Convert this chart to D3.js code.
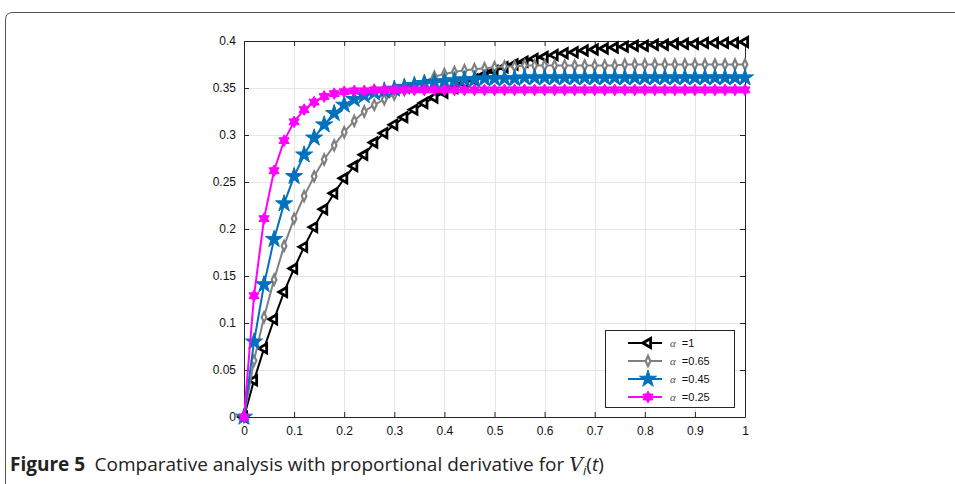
<!DOCTYPE html>
<html>
<head>
<meta charset="utf-8">
<script src="https://cdn.jsdelivr.net/npm/d3@7"></script>
<style>
  body { margin: 0; background: #fff; }
  svg { display: block; }
</style>
</head>
<body>
<svg id="chart" width="955" height="484"></svg>
<script>
// time samples 0, 0.02, ..., 1
const tValues = d3.range(51).map((i) => +(i * 0.02).toFixed(2));

const alpha1 = [0, 0.039, 0.073, 0.104, 0.133, 0.158, 0.181, 0.202, 0.221, 0.238,
  0.254, 0.267, 0.279, 0.292, 0.302, 0.311, 0.319, 0.327, 0.334, 0.340,
  0.345, 0.350, 0.355, 0.359, 0.364, 0.368, 0.372, 0.375, 0.378, 0.381,
  0.383, 0.385, 0.387, 0.388, 0.390, 0.391, 0.392, 0.393, 0.394, 0.395,
  0.395, 0.396, 0.396, 0.397, 0.397, 0.397, 0.398, 0.398, 0.398, 0.398, 0.399];

const alpha065 = [0, 0.060, 0.106, 0.146, 0.182, 0.211, 0.235, 0.256, 0.274, 0.289,
  0.303, 0.315, 0.325, 0.332, 0.338, 0.343, 0.348, 0.353, 0.357, 0.362,
  0.365, 0.367, 0.369, 0.370, 0.371, 0.372, 0.373, 0.373, 0.374, 0.374,
  0.374, 0.374, 0.374, 0.374, 0.374, 0.374, 0.374, 0.374, 0.375, 0.375,
  0.375, 0.375, 0.375, 0.375, 0.375, 0.375, 0.375, 0.375, 0.375, 0.375, 0.375];

const alpha045 = [0, 0.080, 0.141, 0.189, 0.227, 0.256, 0.279, 0.297, 0.311, 0.323,
  0.332, 0.338, 0.342, 0.345, 0.347, 0.349, 0.351, 0.353, 0.355, 0.356,
  0.357, 0.358, 0.359, 0.359, 0.360, 0.360, 0.360, 0.360, 0.361, 0.361,
  0.361, 0.361, 0.361, 0.361, 0.361, 0.361, 0.361, 0.361, 0.361, 0.361,
  0.361, 0.361, 0.361, 0.361, 0.361, 0.361, 0.361, 0.361, 0.361, 0.361, 0.361];

const alpha025 = [0, 0.129, 0.211, 0.262, 0.294, 0.314, 0.327, 0.335, 0.341, 0.344,
  0.346, 0.347, 0.347, 0.348, 0.348, 0.348, 0.348, 0.348, 0.348, 0.348,
  0.348, 0.348, 0.348, 0.348, 0.348, 0.348, 0.348, 0.348, 0.348, 0.348,
  0.348, 0.348, 0.348, 0.348, 0.348, 0.348, 0.348, 0.348, 0.348, 0.348,
  0.348, 0.348, 0.348, 0.348, 0.348, 0.348, 0.348, 0.348, 0.348, 0.348, 0.348];

const seriesLabels = ["=1", "=0.65", "=0.45", "=0.25"];
const xTicks = d3.range(11).map((i) => i / 10);
const yTicks = d3.range(9).map((i) => i * 0.05);

const svg = d3.select("#chart");

// card frame with rounded top-left corner
svg.append("path")
  .attr("d", "M5.5,484 L5.5,20 Q5.5,12.5 13,12.5 L955,12.5")
  .attr("fill", "none")
  .attr("stroke", "#555")
  .attr("stroke-width", 1);

const x = d3.scaleLinear().domain([0, 1]).range([244, 745]);
const y = d3.scaleLinear().domain([0, 0.4]).range([417, 41]);

// grid
const grid = svg.append("g").attr("stroke", "#e6e6e6").attr("stroke-width", 1);
grid.selectAll(".gx").data(xTicks.slice(1, -1)).join("line")
  .attr("x1", (d) => Math.round(x(d)) + 0.5).attr("x2", (d) => Math.round(x(d)) + 0.5)
  .attr("y1", y(0.4)).attr("y2", y(0));
grid.selectAll(".gy").data(yTicks.slice(1, -1)).join("line")
  .attr("y1", (d) => Math.round(y(d)) + 0.5).attr("y2", (d) => Math.round(y(d)) + 0.5)
  .attr("x1", x(0)).attr("x2", x(1));

// axes (matlab style, ticks inside, box on)
const fmt = (d) => (d === 0 ? "0" : d3.format("~g")(+d.toFixed(2)));
const axisColor = "#262626";

function styleAxis(g) {
  g.selectAll("path").attr("stroke", axisColor);
  g.selectAll("line").attr("stroke", axisColor);
  g.selectAll("text")
    .attr("fill", "#111")
    .style("font-family", "'Liberation Sans', Arial, sans-serif")
    .style("font-size", "12px");
}

svg.append("g")
  .attr("transform", `translate(0,${y(0)})`)
  .call(d3.axisBottom(x).tickValues(xTicks).tickFormat(fmt).tickSizeInner(-5).tickSizeOuter(0).tickPadding(9))
  .call(styleAxis);
svg.append("g")
  .attr("transform", `translate(0,${y(0.4)})`)
  .call(d3.axisTop(x).tickValues(xTicks).tickFormat("").tickSizeInner(-5).tickSizeOuter(0))
  .call(styleAxis);
svg.append("g")
  .attr("transform", `translate(${x(0)},0)`)
  .call(d3.axisLeft(y).tickValues(yTicks).tickFormat(fmt).tickSizeInner(-5).tickSizeOuter(0).tickPadding(8))
  .call(styleAxis);
svg.append("g")
  .attr("transform", `translate(${x(1)},0)`)
  .call(d3.axisRight(y).tickValues(yTicks).tickFormat("").tickSizeInner(-5).tickSizeOuter(0))
  .call(styleAxis);

// six-pointed star for the 0.25 curve
const hexagram = {
  draw(context, size) {
    const r = Math.sqrt(size / 2.2);
    const ri = r * 0.58;
    for (let i = 0; i < 12; i++) {
      const a = (Math.PI / 6) * i - Math.PI / 2;
      const rr = i % 2 === 0 ? r : ri;
      const px = rr * Math.cos(a);
      const py = rr * Math.sin(a);
      if (i === 0) context.moveTo(px, py); else context.lineTo(px, py);
    }
    context.closePath();
  },
};

const series = [
  { label: seriesLabels[0], values: alpha1, color: "#000000", symbol: d3.symbolTriangle, size: 36, rotate: -90, fill: "#fff", sw: 2.8 },
  { label: seriesLabels[1], values: alpha065, color: "#808080", symbol: d3.symbolDiamond, size: 30, rotate: 0, fill: "#fff", sw: 2.6, scaleX: 0.8 },
  { label: seriesLabels[2], values: alpha045, color: "#0072bd", symbol: d3.symbolStar, size: 90, rotate: 0, fill: "#0072bd", sw: 1 },
  { label: seriesLabels[3], values: alpha025, color: "#ff00ff", symbol: hexagram, size: 75, rotate: 0, fill: "#ff00ff", sw: 1 },
];

const line = d3.line().x((d) => x(d[0])).y((d) => y(d[1]));
const plot = svg.append("g");

series.forEach((s) => {
  const pts = tValues.map((t, i) => [t, s.values[i]]);
  plot.append("path")
    .datum(pts)
    .attr("d", line)
    .attr("fill", "none")
    .attr("stroke", s.color)
    .attr("stroke-width", 2);
  plot.append("g").selectAll("path").data(pts).join("path")
    .attr("d", d3.symbol(s.symbol, s.size))
    .attr("transform", (d) => `translate(${x(d[0])},${y(d[1])}) rotate(${s.rotate}) scale(${s.scaleX || 1},1)`)
    .attr("fill", s.fill)
    .attr("stroke", s.color)
    .attr("stroke-width", s.sw);
});

// legend
const legend = svg.append("g").attr("transform", "translate(605,330)");
legend.append("rect")
  .attr("x", 0.5).attr("y", 0.5).attr("width", 129).attr("height", 77)
  .attr("fill", "#fff").attr("stroke", axisColor).attr("stroke-width", 1);
series.forEach((s, i) => {
  const row = legend.append("g").attr("transform", `translate(0,${13 + i * 18})`);
  row.append("line").attr("x1", 23).attr("x2", 57).attr("y1", 0).attr("y2", 0)
    .attr("stroke", s.color).attr("stroke-width", 2);
  row.append("path")
    .attr("d", d3.symbol(s.symbol, s.size))
    .attr("transform", `translate(43,0) rotate(${s.rotate}) scale(${s.scaleX || 1},1)`)
    .attr("fill", s.fill).attr("stroke", s.color).attr("stroke-width", s.sw);
  const txt = row.append("text").attr("x", 65).attr("y", 4)
    .style("font-family", "'Liberation Sans', Arial, sans-serif")
    .style("font-size", "11px").attr("fill", "#111");
  txt.append("tspan").text("α").style("font-family", "'Liberation Serif', serif").style("font-style", "italic").attr("fill", "#555");
  txt.append("tspan").text(" " + s.label).attr("dx", 3);
});

// caption
const cap = svg.append("text").attr("x", 10).attr("y", 471)
  .style("font-family", "'Open Sans', 'Noto Sans', sans-serif")
  .style("font-size", "19px").attr("fill", "#222");
cap.append("tspan").text("Figure 5").style("font-weight", "bold");
cap.append("tspan").text("\u2002Comparative analysis with proportional derivative for ");
cap.append("tspan").text("V").style("font-family", "'DejaVu Serif', serif").style("font-style", "italic");
cap.append("tspan").text("i").style("font-style", "italic").attr("dy", 4).style("font-size", "13px");
cap.append("tspan").text("(").attr("dy", -4);
cap.append("tspan").text("t").style("font-style", "italic");
cap.append("tspan").text(")");
</script>
</body>
</html>
